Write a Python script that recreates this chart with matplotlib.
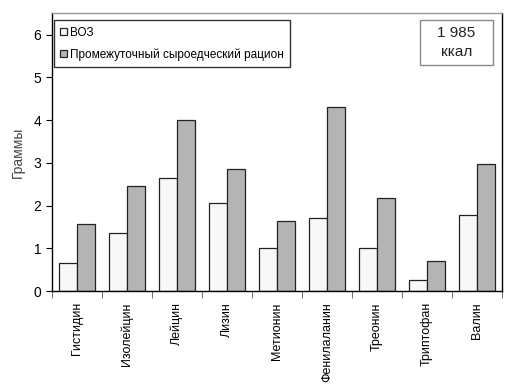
"""Аминокислоты: ВОЗ против промежуточного сыроедческого рациона"""

import numpy as np
import matplotlib
matplotlib.use("Agg")
import matplotlib.pyplot as plt
from matplotlib.patches import Rectangle

categories = ["Гистидин", "Изолейцин", "Лейцин", "Лизин", "Метионин",
              "Фенилаланин", "Треонин", "Триптофан", "Валин"]
who = [0.66, 1.36, 2.65, 2.05, 1.01, 1.70, 1.01, 0.25, 1.77]
raw = [1.56, 2.45, 4.00, 2.86, 1.63, 4.30, 2.18, 0.71, 2.96]


def main():
    plt.rcParams["font.family"] = ["Liberation Sans Narrow", "Liberation Sans", "DejaVu Sans"]
    fig = plt.figure(figsize=(5.29, 3.87), dpi=100)
    ax = fig.add_axes([0.098, 0.248, 0.851, 0.718])

    x = np.arange(len(categories))
    w = 0.36
    ax.bar(x - w / 2, who, w, color="#f8f8f8", edgecolor="#222222", linewidth=0.9, label="ВОЗ")
    ax.bar(x + w / 2, raw, w, color="#b4b4b4", edgecolor="#222222", linewidth=0.9,
           label="Промежуточный сыроедческий рацион")

    ax.set_xlim(-0.5, len(categories) - 0.5)
    ax.set_ylim(0, 6.5)
    ax.set_yticks(range(7))
    ax.tick_params(axis="y", labelsize=10, length=4, direction="out")
    ax.set_xticks(x)
    ax.set_xticklabels(categories, rotation=90, fontsize=9)
    ax.tick_params(axis="x", length=0, pad=8)
    ax.set_xticks(np.arange(-0.5, len(categories)), minor=True)
    ax.tick_params(axis="x", which="minor", length=5, color="#555555")
    for s in ax.spines.values():
        s.set_linewidth(1.0)
    ax.spines["top"].set_color("#999999")

    ax.set_ylabel("Граммы", fontsize=10, color="#444444", labelpad=6)

    leg = ax.legend(loc="upper left", bbox_to_anchor=(0.004, 0.975), fontsize=8.5,
                    frameon=True, fancybox=False, edgecolor="black",
                    handlelength=0.6, handleheight=0.6, handletextpad=0.2,
                    borderpad=0.55, labelspacing=0.8, borderaxespad=0)
    leg.get_frame().set_linewidth(1.0)

    # рамка с калорийностью
    ax.add_patch(Rectangle((0.818, 0.813), 0.162, 0.162, transform=ax.transAxes,
                           facecolor="white", edgecolor="#888888", linewidth=1.0, zorder=5))
    ax.text(0.899, 0.894, "1 985\nккал", transform=ax.transAxes, ha="center", va="center",
            fontsize=11, linespacing=1.5, color="#222222", zorder=6)

    fig.savefig("out.png", dpi=100)


main()
